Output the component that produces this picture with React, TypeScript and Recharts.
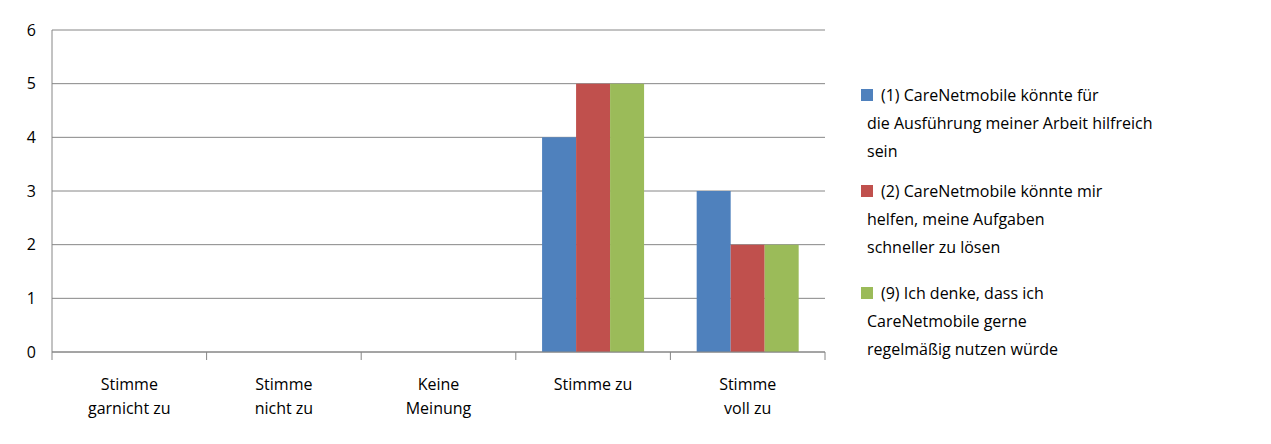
import React from "react";
import { BarChart, Bar, XAxis, YAxis, CartesianGrid } from "recharts";

const categories = ["Stimme garnicht zu", "Stimme nicht zu", "Keine Meinung", "Stimme zu", "Stimme voll zu"];
const tickLines: string[][] = [["Stimme", "garnicht zu"], ["Stimme", "nicht zu"], ["Keine", "Meinung"], ["Stimme zu"], ["Stimme", "voll zu"]];
const series1 = [0, 0, 0, 4, 3];
const series2 = [0, 0, 0, 5, 2];
const series3 = [0, 0, 0, 5, 2];
const legendLines: string[][] = [
  ["(1) CareNetmobile könnte für", "die Ausführung meiner Arbeit hilfreich", "sein"],
  ["(2) CareNetmobile könnte mir", "helfen, meine Aufgaben", "schneller zu lösen"],
  ["(9) Ich denke, dass ich", "CareNetmobile gerne", "regelmäßig nutzen würde"],
];
const colors = ["#4F81BD", "#C0504D", "#9BBB59"];

const data = categories.map((c, i) => ({ name: c, s1: series1[i], s2: series2[i], s3: series3[i] }));

const FONT = "'Open Sans', sans-serif";
const BAND = 773 / 5;

const XTick = (props: any) => {
  const { x, y, index } = props;
  const lines = tickLines[index] || [];
  return (
    <g>
      <line x1={x - BAND / 2} x2={x - BAND / 2} y1={y} y2={y + 8} stroke="#868686" />
      {index === categories.length - 1 && <line x1={x + BAND / 2} x2={x + BAND / 2} y1={y} y2={y + 8} stroke="#868686" />}
      <text x={x} y={y + 38} textAnchor="middle" fontFamily={FONT} fontSize={16} fill="#000">
        {lines.map((l, i) => (
          <tspan key={i} x={x} dy={i === 0 ? 0 : 24}>{l}</tspan>
        ))}
      </text>
    </g>
  );
};

export default function App() {
  return (
    <div style={{ margin: -8, width: 1271, height: 444, position: "relative", boxSizing: "border-box", border: "1px solid #868686" }}>
      <div style={{ position: "absolute", left: -1, top: -1 }}>
        <BarChart width={1271} height={444} data={data} margin={{ top: 30, right: 446, bottom: 0, left: 0 }} barCategoryGap="17%" barGap={0}>
          <CartesianGrid vertical={false} stroke="#868686" />
          <XAxis dataKey="name" interval={0} tick={<XTick />} tickLine={false} stroke="#868686" height={92} tickSize={0} tickMargin={0} />
          <YAxis domain={[0, 6]} ticks={[0, 1, 2, 3, 4, 5, 6]} width={52} stroke="#868686" tickLine={false} tickMargin={10}
            tick={{ fill: "#000", fontFamily: FONT, fontSize: 16 }} />
          <Bar dataKey="s1" fill={colors[0]} isAnimationActive={false} />
          <Bar dataKey="s2" fill={colors[1]} isAnimationActive={false} />
          <Bar dataKey="s3" fill={colors[2]} isAnimationActive={false} />
        </BarChart>
      </div>
      <div style={{ position: "absolute", left: 860, top: 80, fontFamily: FONT, fontSize: 16, lineHeight: "28px", color: "#000" }}>
        {legendLines.map((lines, i) => (
          <div key={i} style={{ marginBottom: i === 0 ? 12 : 18 }}>
            {lines.map((l, j) => (
              <div key={j} style={{ paddingLeft: j === 0 ? 0 : 6, whiteSpace: "nowrap" }}>
                {j === 0 && (
                  <span style={{ display: "inline-block", width: 12, height: 12, background: colors[i], marginRight: 8 }} />
                )}
                {l}
              </div>
            ))}
          </div>
        ))}
      </div>
    </div>
  );
}
